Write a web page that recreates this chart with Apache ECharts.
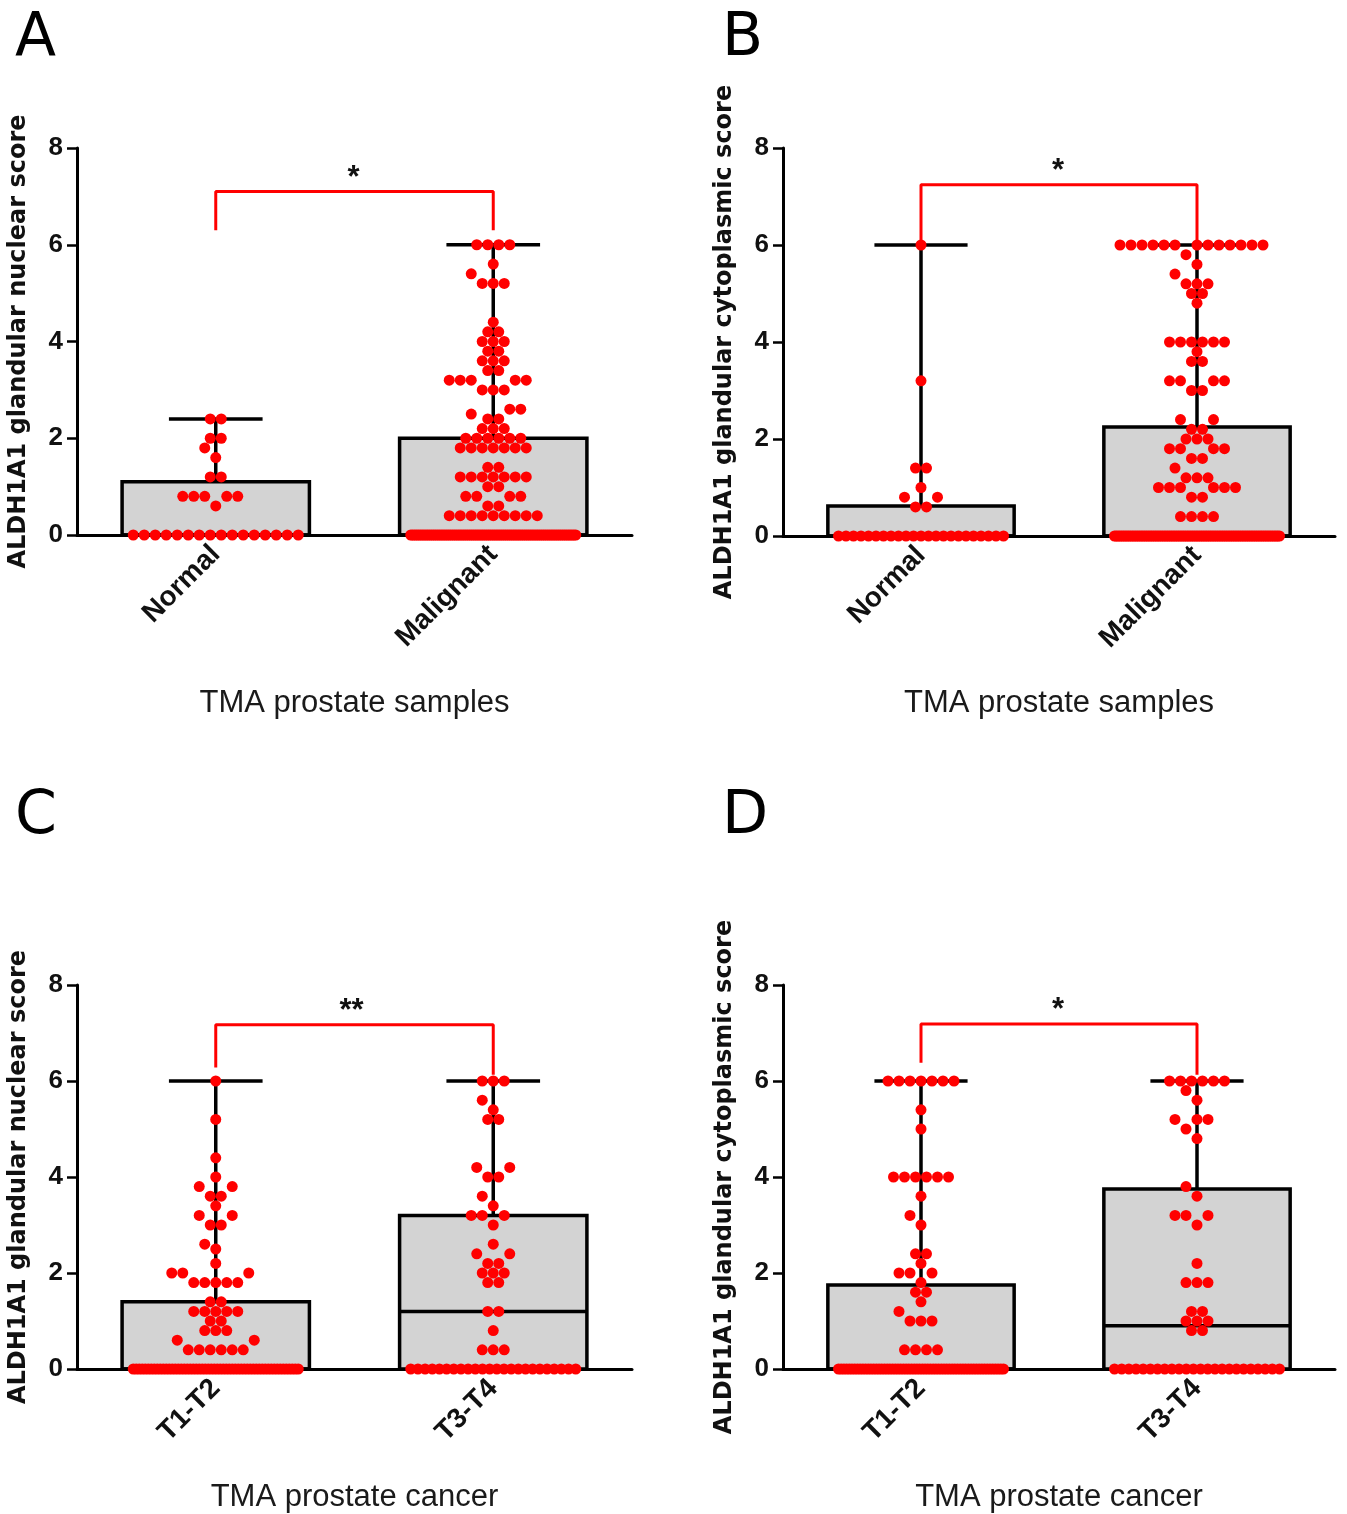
<!DOCTYPE html>
<html>
<head>
<meta charset="utf-8">
<script src="https://cdn.jsdelivr.net/npm/echarts@6/dist/echarts.min.js"></script>
<style>
  html, body { margin: 0; padding: 0; background: #fff; }
  #chart { width: 1347px; height: 1514px; }
</style>
</head>
<body>
<div id="chart"></div>
<script>
// ---- data: score -> number of cores at that score ----
var catsAB = ['Normal', 'Malignant'];
var catsCD = ['T1-T2', 'T3-T4'];

var scoresA_normal = [0, 0.6, 0.8, 1.2, 1.6, 1.8, 2.0, 2.4];
var countsA_normal = [16, 1, 5, 2, 1, 1, 2, 2];
var scoresA_malig = [0, 0.4, 0.6, 0.8, 1.0, 1.2, 1.4, 1.8, 2.0, 2.2, 2.4, 2.5, 2.6, 3.0, 3.2, 3.4, 3.6, 3.8, 4.0, 4.2, 4.4, 5.2, 5.4, 5.6, 6.0];
var countsA_malig = [88, 9, 2, 4, 2, 7, 2, 7, 6, 3, 2, 1, 2, 3, 5, 2, 3, 2, 3, 2, 1, 3, 1, 1, 4];

var scoresB_normal = [0, 0.6, 0.8, 1.0, 1.4, 3.2, 6.0];
var countsB_normal = [23, 2, 2, 1, 2, 1, 1];
var scoresB_malig = [0, 0.4, 0.8, 1.0, 1.2, 1.4, 1.6, 1.8, 2.0, 2.2, 2.4, 3.0, 3.2, 3.6, 3.8, 4.0, 4.8, 5.0, 5.2, 5.4, 5.6, 5.8, 6.0];
var countsB_malig = [94, 4, 2, 6, 3, 1, 2, 4, 3, 2, 2, 2, 4, 2, 1, 6, 1, 2, 3, 1, 1, 1, 13];

var scoresC_t12 = [0, 0.4, 0.6, 0.8, 1.0, 1.2, 1.4, 1.8, 2.0, 2.2, 2.5, 2.6, 3.0, 3.2, 3.4, 3.6, 3.8, 4.0, 4.4, 5.2, 6.0];
var countsC_t12 = [56, 6, 2, 3, 2, 5, 2, 5, 3, 1, 1, 1, 2, 2, 1, 2, 2, 1, 1, 1, 1];
var scoresC_t34 = [0, 0.4, 0.8, 1.2, 1.8, 2.0, 2.2, 2.4, 2.6, 3.0, 3.2, 3.4, 3.6, 4.0, 4.2, 5.2, 5.4, 5.6, 6.0];
var countsC_t34 = [24, 3, 1, 2, 2, 3, 2, 2, 1, 1, 3, 1, 1, 2, 2, 2, 1, 1, 3];

var scoresD_t12 = [0, 0.4, 1.0, 1.2, 1.4, 1.6, 1.8, 2.0, 2.2, 2.4, 3.0, 3.2, 3.6, 4.0, 5.0, 5.4, 6.0];
var countsD_t12 = [62, 4, 3, 1, 1, 2, 1, 3, 1, 2, 1, 1, 1, 6, 1, 1, 7];
var scoresD_t34 = [0, 0.8, 1.0, 1.2, 1.8, 2.2, 3.0, 3.2, 3.6, 3.8, 4.8, 5.0, 5.2, 5.6, 5.8, 6.0];
var countsD_t34 = [24, 2, 3, 2, 3, 1, 1, 3, 1, 1, 1, 1, 3, 1, 1, 6];

// box stats [min, Q1, median, Q3, max]
var boxA = [[0, 0, 0, 1.1, 2.4], [0, 0, 0, 2.0, 6]];
var boxB = [[0, 0, 0, 0.62, 6], [0, 0, 0, 2.25, 6]];
var boxC = [[0, 0, 0, 1.4, 6], [0, 0, 1.2, 3.2, 6]];
var boxD = [[0, 0, 0, 1.75, 6], [0, 0, 0.9, 3.75, 6]];

// significance brackets [left leg bottom, bar height, right leg bottom]
var bracketA = [6.3, 7.1, 6.3];
var bracketB = [6.05, 7.24, 6.05];
var bracketC = [6.28, 7.17, 6.13];
var bracketD = [6.38, 7.19, 6.13];

var yTicks = [0, 2, 4, 6, 8];

// ---- layout ----
var DOT = 11;
var panels = [
  { letter: 'A', cats: catsAB, grid: { left: 77, top: 148, width: 555, height: 387 },
    groups: [[scoresA_normal, countsA_normal], [scoresA_malig, countsA_malig]], box: boxA, br: bracketA, stars: '*',
    yname: 'ALDH1A1 glandular nuclear score', xname: 'TMA prostate samples', xgap: 153 },
  { letter: 'B', cats: catsAB, grid: { left: 783, top: 148, width: 552, height: 388 },
    groups: [[scoresB_normal, countsB_normal], [scoresB_malig, countsB_malig]], box: boxB, br: bracketB, stars: '*',
    yname: 'ALDH1A1 glandular cytoplasmic score', xname: 'TMA prostate samples', xgap: 152 },
  { letter: 'C', cats: catsCD, grid: { left: 77, top: 985, width: 555, height: 386 },
    groups: [[scoresC_t12, countsC_t12], [scoresC_t34, countsC_t34]], box: boxC, br: bracketC, stars: '**',
    yname: 'ALDH1A1 glandular nuclear score', xname: 'TMA prostate cancer', xgap: 113 },
  { letter: 'D', cats: catsCD, grid: { left: 783, top: 985, width: 552, height: 386 },
    groups: [[scoresD_t12, countsD_t12], [scoresD_t34, countsD_t34]], box: boxD, br: bracketD, stars: '*',
    yname: 'ALDH1A1 glandular cytoplasmic score', xname: 'TMA prostate cancer', xgap: 113 }
];

// simple beeswarm: rows bottom-up, horizontal offsets in px
function swarm(scores, counts, pxPerUnit) {
  var placed = [], out = [];
  var maxSpan = 165;
  scores.forEach(function (v, idx) {
    var n = counts[idx], y = v * pxPerUnit;
    var spacing = n > 1 ? Math.min(DOT, maxSpan / (n - 1)) : DOT;
    var collides = function (x) {
      return placed.some(function (p) { return Math.hypot(p[0] - x, p[1] - y) < DOT - 0.6; });
    };
    var block = [];
    for (var i = 0; i < n; i++) block.push((i - (n - 1) / 2) * spacing);
    var offs = [];
    if (spacing < DOT || block.every(function (x) { return !collides(x); })) {
      offs = block;
    } else {
      var half = n % 2 === 0 ? 0.5 : 0, cands = [];
      for (var k = 0; k < 30; k++) {
        var s = (k + half) * DOT;
        if (s === 0) cands.push(0); else cands.push(-s, s);
      }
      for (var c = 0; c < cands.length && offs.length < n; c++) {
        if (!collides(cands[c])) offs.push(cands[c]);
      }
    }
    offs.forEach(function (x) { placed.push([x, y]); out.push([v, x]); });
  });
  return out;
}

var grids = [], xAxes = [], yAxes = [], series = [], graphics = [];
var font = 'Liberation Sans, Arial, sans-serif';

panels.forEach(function (p, gi) {
  grids.push(Object.assign({ containLabel: false }, p.grid));
  xAxes.push({
    type: 'category', gridIndex: gi, data: p.cats,
    name: p.xname, nameLocation: 'middle', nameGap: p.xgap,
    nameTextStyle: { fontSize: 31, color: '#1a1a1a', fontFamily: font },
    axisLine: { lineStyle: { color: '#000', width: 3 } },
    axisTick: { alignWithLabel: true, length: 9, lineStyle: { color: '#000', width: 3 } },
    axisLabel: { rotate: 45, margin: 15, fontSize: 28, fontWeight: 'bold', color: '#111', fontFamily: font }
  });
  yAxes.push({
    type: 'value', gridIndex: gi, min: yTicks[0], max: yTicks[yTicks.length - 1], interval: 2,
    name: p.yname, nameLocation: 'middle', nameGap: 46,
    nameTextStyle: { fontSize: 24, fontWeight: 'bold', color: '#111', fontFamily: 'DejaVu Sans, sans-serif' },
    axisLine: { show: true, lineStyle: { color: '#000', width: 3 } },
    axisTick: { show: true, length: 10, lineStyle: { color: '#000', width: 2.5 } },
    axisLabel: { margin: 14, fontSize: 26, fontWeight: 'bold', color: '#111', fontFamily: font },
    splitLine: { show: false }
  });

  var pxPerUnit = p.grid.height / 8;

  // boxes with whiskers
  series.push({
    type: 'custom', xAxisIndex: gi, yAxisIndex: gi, z: 2,
    data: p.box.map(function (b, i) { return [i].concat(b); }),
    encode: { x: 0, y: [1, 2, 3, 4, 5] },
    renderItem: function (params, api) {
      var ci = api.value(0);
      var bw = api.size([1, 0])[0] * 0.675;
      var pMin = api.coord([ci, api.value(1)]), pQ1 = api.coord([ci, api.value(2)]);
      var pMed = api.coord([ci, api.value(3)]), pQ3 = api.coord([ci, api.value(4)]);
      var pMax = api.coord([ci, api.value(5)]);
      var cx = pQ3[0], cap = bw / 2;
      var ln = { stroke: '#000', lineWidth: 3.5 };
      return { type: 'group', children: [
        { type: 'line', shape: { x1: cx, y1: pQ3[1], x2: cx, y2: pMax[1] }, style: ln },
        { type: 'line', shape: { x1: cx - cap / 2, y1: pMax[1], x2: cx + cap / 2, y2: pMax[1] }, style: ln },
        { type: 'line', shape: { x1: cx, y1: pQ1[1], x2: cx, y2: pMin[1] }, style: ln },
        { type: 'rect', shape: { x: cx - bw / 2, y: pQ3[1], width: bw, height: pQ1[1] - pQ3[1] },
          style: { fill: '#d3d3d3', stroke: '#000', lineWidth: 3.5 } },
        { type: 'line', shape: { x1: cx - bw / 2, y1: pMed[1], x2: cx + bw / 2, y2: pMed[1] }, style: ln }
      ] };
    }
  });

  // individual cores as a beeswarm
  var dots = [];
  p.groups.forEach(function (g, ci) {
    swarm(g[0], g[1], pxPerUnit).forEach(function (d) { dots.push([ci, d[0], d[1]]); });
  });
  series.push({
    type: 'custom', xAxisIndex: gi, yAxisIndex: gi, z: 3,
    data: dots, encode: { x: 0, y: 1 },
    renderItem: function (params, api) {
      var pt = api.coord([api.value(0), api.value(1)]);
      return { type: 'circle', shape: { cx: pt[0] + api.value(2), cy: pt[1], r: DOT / 2 },
        style: { fill: '#ff0000' } };
    }
  });

  // significance bracket
  series.push({
    type: 'line', xAxisIndex: gi, yAxisIndex: gi, z: 4, symbol: 'none', silent: true,
    lineStyle: { color: '#ff0000', width: 3 },
    data: [[p.cats[0], p.br[0]], [p.cats[0], p.br[1]], [p.cats[1], p.br[1]], [p.cats[1], p.br[2]]]
  });

  var midX = p.grid.left + p.grid.width / 2;
  var barY = p.grid.top + p.grid.height - p.br[1] * pxPerUnit;
  graphics.push({
    type: 'text', left: midX - (p.stars.length * 8) + 1, top: barY - 29,
    style: { text: p.stars, font: 'bold 31px ' + font, fill: '#111' }
  });
  graphics.push({
    type: 'text', left: (p.grid.left < 400 ? 15 : 722), top: (p.grid.top < 500 ? 9 : 787),
    style: { text: p.letter, font: '60px DejaVu Sans, sans-serif', fill: '#000' }
  });
});

var chart = echarts.init(document.getElementById('chart'));
chart.setOption({
  backgroundColor: '#fff',
  animation: false,
  grid: grids, xAxis: xAxes, yAxis: yAxes, series: series, graphic: graphics
});
</script>
</body>
</html>
